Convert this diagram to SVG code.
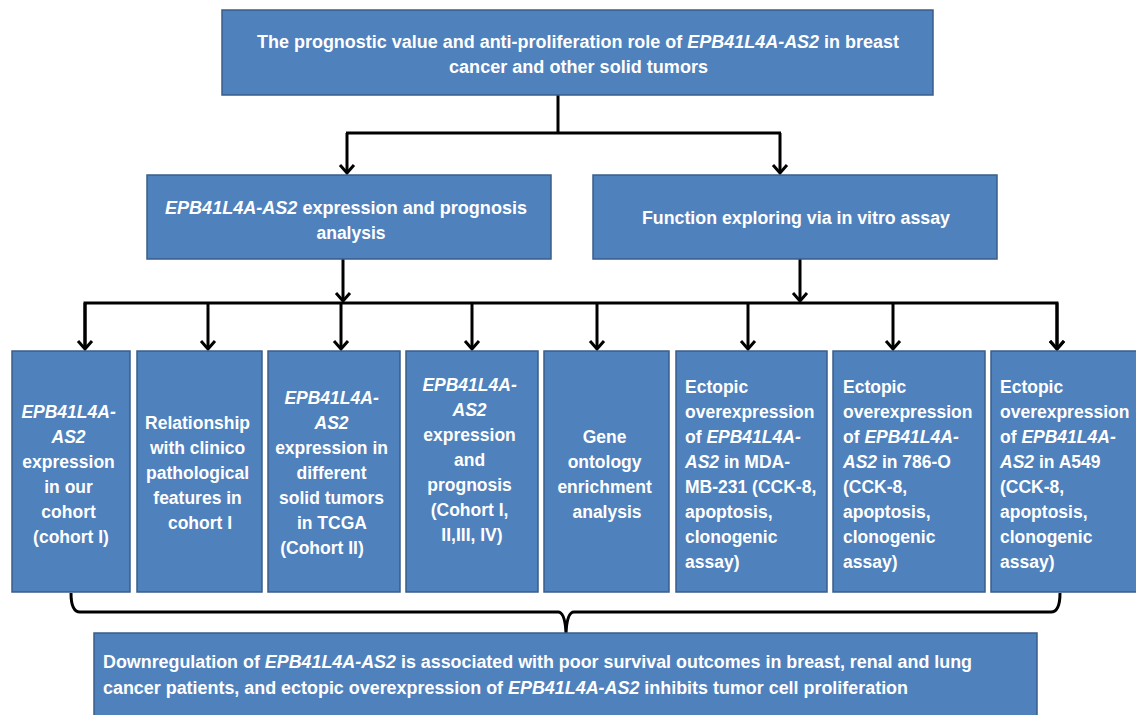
<svg xmlns="http://www.w3.org/2000/svg" width="1136" height="715" viewBox="0 0 1136 715">
<style>
.box{fill:#4F81BD;stroke:#385D8A;stroke-width:1.5}
.t{font-family:"Liberation Sans",Arial,sans-serif;font-weight:bold;font-size:17.5px;fill:#fff}
.c{text-anchor:middle}
.i{font-style:italic}
.ln{fill:none;stroke:#000;stroke-width:3}
</style>
<defs>
<marker id="arr" markerWidth="20" markerHeight="20" refX="10" refY="10" orient="auto" markerUnits="userSpaceOnUse" viewBox="0 0 20 20">
<path d="M2,3 L10,10 L2,17" fill="none" stroke="#000" stroke-width="3"/>
</marker>
</defs>
<rect width="1136" height="715" fill="#fff"/>

<g id="connectors">
<path class="ln" d="M558,95 V133"/>
<path class="ln" d="M346,133 H781"/>
<path class="ln" d="M347,133 V173" marker-end="url(#arr)"/>
<path class="ln" d="M780,133 V173" marker-end="url(#arr)"/>
<path class="ln" d="M343,259 V301" marker-end="url(#arr)"/>
<path class="ln" d="M800,259 V301" marker-end="url(#arr)"/>
<path class="ln" d="M85,349 V303 H1057 V349" marker-end="url(#arr)"/>
<path class="ln" d="M85,303 V349" marker-end="url(#arr)"/>
<path class="ln" d="M208,303 V349" marker-end="url(#arr)"/>
<path class="ln" d="M341,303 V349" marker-end="url(#arr)"/>
<path class="ln" d="M472,303 V349" marker-end="url(#arr)"/>
<path class="ln" d="M597,303 V349" marker-end="url(#arr)"/>
<path class="ln" d="M748,303 V349" marker-end="url(#arr)"/>
<path class="ln" d="M893,303 V349" marker-end="url(#arr)"/>
<path class="ln" d="M1057,303 V349" marker-end="url(#arr)"/>
<path class="ln" d="M71,593 Q71,612 80,612 L558,612 Q565,612 566,633 Q567,612 574,612 L1051,612 Q1060,612 1060,593"/>
</g>

<g id="top">
<rect class="box" x="222" y="10" width="711" height="85"/>
<text class="t" x="257" y="48" textLength="642" lengthAdjust="spacingAndGlyphs">The prognostic value and anti-proliferation role of <tspan class="i">EPB41L4A-AS2</tspan> in breast</text>
<text class="t" x="449" y="73" textLength="259" lengthAdjust="spacingAndGlyphs">cancer and other solid tumors</text>
</g>

<g id="expr">
<rect class="box" x="147" y="175" width="404" height="84"/>
<text class="t" x="165" y="214" textLength="362" lengthAdjust="spacingAndGlyphs"><tspan class="i">EPB41L4A-AS2</tspan> expression and  prognosis</text>
<text class="t c" x="351" y="239">analysis</text>
</g>

<g id="func">
<rect class="box" x="593" y="175" width="404" height="84"/>
<text class="t" x="642" y="224" textLength="308" lengthAdjust="spacingAndGlyphs">Function exploring via in vitro assay</text>
</g>

<g id="b1">
<rect class="box" x="12" y="351" width="118" height="241"/>
<text class="t c">
<tspan class="i" x="71" y="418">EPB41L4A-</tspan>
<tspan class="i" x="71" y="443">AS2</tspan>
<tspan x="71" y="468">expression</tspan>
<tspan x="71" y="493">in our</tspan>
<tspan x="71" y="518">cohort</tspan>
<tspan x="71" y="543">(cohort I)</tspan>
</text>
</g>

<g id="b2">
<rect class="box" x="137" y="351" width="125" height="241"/>
<text class="t c">
<tspan x="200" y="429">Relationship</tspan>
<tspan x="200" y="454">with clinico</tspan>
<tspan x="200" y="479">pathological</tspan>
<tspan x="200" y="504">features in</tspan>
<tspan x="200" y="529">cohort I</tspan>
</text>
</g>

<g id="b3">
<rect class="box" x="268" y="351" width="132" height="241"/>
<text class="t c">
<tspan class="i" x="334" y="404">EPB41L4A-</tspan>
<tspan class="i" x="334" y="429">AS2</tspan>
<tspan x="334" y="454">expression in</tspan>
<tspan x="334" y="479">different</tspan>
<tspan x="334" y="504">solid tumors</tspan>
<tspan x="334" y="529">in TCGA</tspan>
<tspan x="322" y="554">(Cohort II)</tspan>
</text>
</g>

<g id="b4">
<rect class="box" x="406" y="351" width="132" height="241"/>
<text class="t c">
<tspan class="i" x="472" y="391">EPB41L4A-</tspan>
<tspan class="i" x="472" y="416">AS2</tspan>
<tspan x="472" y="441">expression</tspan>
<tspan x="472" y="466">and</tspan>
<tspan x="472" y="491">prognosis</tspan>
<tspan x="472" y="516">(Cohort I,</tspan>
<tspan x="472" y="541">II,III, IV)</tspan>
</text>
</g>

<g id="b5">
<rect class="box" x="544" y="351" width="125" height="241"/>
<text class="t c">
<tspan x="607" y="443">Gene</tspan>
<tspan x="607" y="468">ontology</tspan>
<tspan x="607" y="493">enrichment</tspan>
<tspan x="607" y="518">analysis</tspan>
</text>
</g>

<g id="b6">
<rect class="box" x="676" y="351" width="151" height="241"/>
<text class="t">
<tspan x="685" y="393">Ectopic</tspan>
<tspan x="685" y="418">overexpression</tspan>
<tspan x="685" y="443">of <tspan class="i">EPB41L4A-</tspan></tspan>
<tspan x="685" y="468"><tspan class="i">AS2</tspan> in MDA-</tspan>
<tspan x="685" y="493">MB-231 (CCK-8,</tspan>
<tspan x="685" y="518">apoptosis,</tspan>
<tspan x="685" y="543">clonogenic</tspan>
<tspan x="685" y="568">assay)</tspan>
</text>
</g>

<g id="b7">
<rect class="box" x="833" y="351" width="152" height="241"/>
<text class="t">
<tspan x="843" y="393">Ectopic</tspan>
<tspan x="843" y="418">overexpression</tspan>
<tspan x="843" y="443">of <tspan class="i">EPB41L4A-</tspan></tspan>
<tspan x="843" y="468"><tspan class="i">AS2</tspan> in 786-O</tspan>
<tspan x="843" y="493">(CCK-8,</tspan>
<tspan x="843" y="518">apoptosis,</tspan>
<tspan x="843" y="543">clonogenic</tspan>
<tspan x="843" y="568">assay)</tspan>
</text>
</g>

<g id="b8">
<rect class="box" x="991" y="351" width="150" height="241"/>
<text class="t">
<tspan x="1000" y="393">Ectopic</tspan>
<tspan x="1000" y="418">overexpression</tspan>
<tspan x="1000" y="443">of <tspan class="i">EPB41L4A-</tspan></tspan>
<tspan x="1000" y="468"><tspan class="i">AS2</tspan> in A549</tspan>
<tspan x="1000" y="493">(CCK-8,</tspan>
<tspan x="1000" y="518">apoptosis,</tspan>
<tspan x="1000" y="543">clonogenic</tspan>
<tspan x="1000" y="568">assay)</tspan>
</text>
</g>

<g id="conclusion">
<rect class="box" x="94" y="633" width="943" height="90"/>
<text class="t" x="103" y="668" textLength="869" lengthAdjust="spacingAndGlyphs">Downregulation of <tspan class="i">EPB41L4A-AS2</tspan> is associated with poor survival outcomes in breast, renal and lung</text>
<text class="t" x="103" y="694" textLength="805" lengthAdjust="spacingAndGlyphs">cancer patients, and ectopic overexpression of <tspan class="i">EPB41L4A-AS2</tspan> inhibits tumor cell proliferation</text>
</g>
</svg>
